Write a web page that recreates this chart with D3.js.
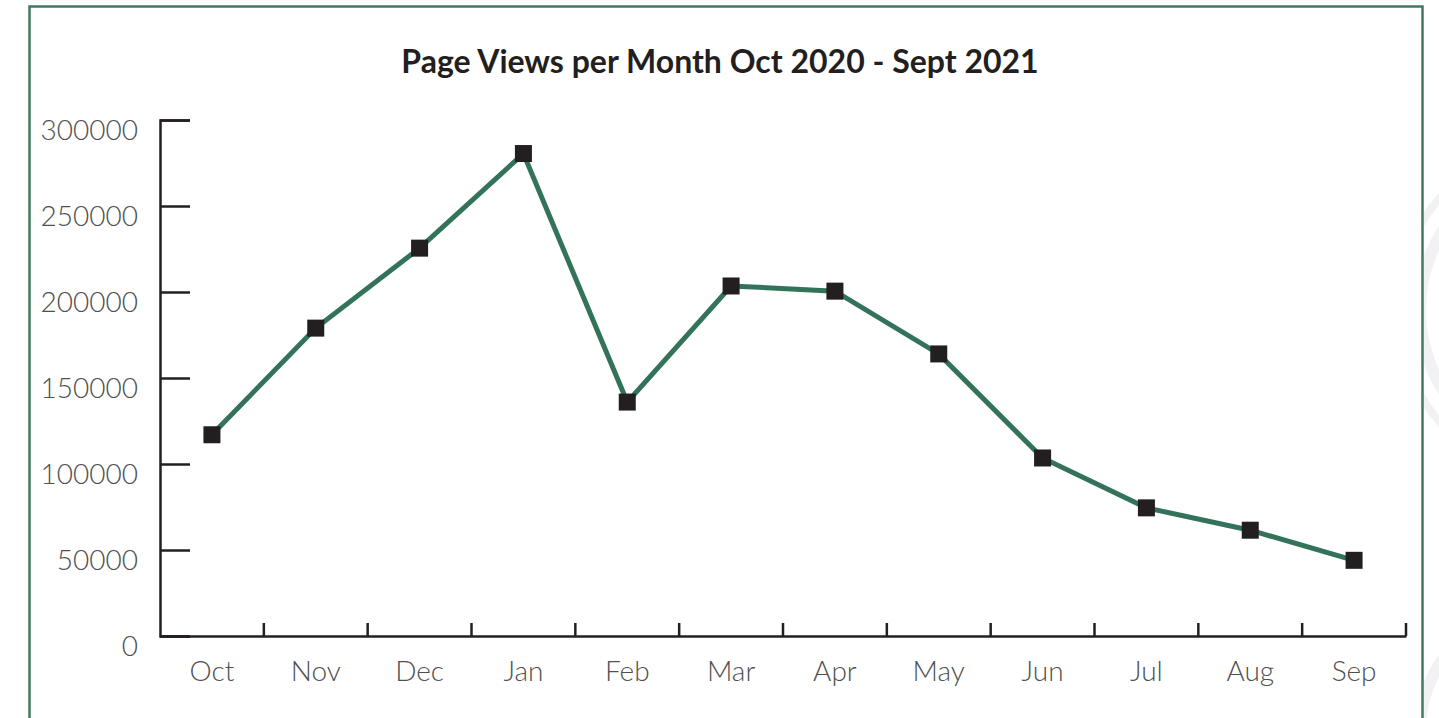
<!DOCTYPE html>
<html>
<head>
<meta charset="utf-8">
<script src="https://cdn.jsdelivr.net/npm/d3@7"></script>
<style>
  html, body { margin: 0; padding: 0; background: #ffffff; }
  svg { display: block; }
  text { font-family: Lato, "Open Sans", sans-serif; }
</style>
</head>
<body>
<svg id="chart" width="1439" height="718"></svg>
<script>
const months = ["Oct", "Nov", "Dec", "Jan", "Feb", "Mar", "Apr", "May", "Jun", "Jul", "Aug", "Sep"];
const pageViews = [117000, 179000, 225500, 280500, 136000, 203500, 200500, 164000, 103500, 74500, 61500, 44000];
const yTicks = [0, 50000, 100000, 150000, 200000, 250000, 300000];
const chartTitle = "Page Views per Month Oct 2020 - Sept 2021";

(function () {
const svg = d3.select("#chart");

// faint background decoration to the right of the frame
const deco = svg.append("g").attr("fill", "none").attr("stroke", "#f2f2f4");
[[1570, 310, 150, 12], [1570, 310, 172, 8], [1540, 730, 120, 12]].forEach(([cx, cy, r, w]) => {
  deco.append("circle").attr("cx", cx).attr("cy", cy).attr("r", r).attr("stroke-width", w);
});

// frame
svg.append("rect")
  .attr("x", 29.5).attr("y", 6.5)
  .attr("width", 1393).attr("height", 740)
  .attr("fill", "#ffffff")
  .attr("stroke", "#3f7a5f")
  .attr("stroke-width", 2.5);

const mLeft = 160, mRight = 1406, mTop = 120, mBottom = 636;

const x = d3.scaleBand().domain(months).range([mLeft, mRight]).paddingInner(0).paddingOuter(0);
const y = d3.scaleLinear().domain([0, 300000]).range([mBottom, mTop]);

// title
svg.append("text")
  .attr("x", 720).attr("y", 73)
  .attr("text-anchor", "middle")
  .attr("font-size", 32)
  .attr("font-weight", 700)
  .attr("fill", "#231f20")
  .text(chartTitle);

// y axis
const yAxis = svg.append("g")
  .attr("transform", `translate(${mLeft},0)`)
  .call(d3.axisLeft(y).tickValues(yTicks).tickFormat(d3.format("d")).tickSize(-30).tickPadding(22));
yAxis.select(".domain").attr("stroke", "#231f20").attr("stroke-width", 2.5);
yAxis.selectAll(".tick line").attr("stroke", "#231f20").attr("stroke-width", 2.5);
yAxis.selectAll(".tick text")
  .attr("font-family", "Lato, sans-serif")
  .attr("font-size", 28).attr("font-weight", 300)
  .attr("fill", "#4f4f4f")
  .attr("dy", "0.69em");

// x axis
const xAxis = svg.append("g")
  .attr("transform", `translate(0,${mBottom})`)
  .call(d3.axisBottom(x).tickSize(0).tickSizeOuter(0).tickPadding(25));
xAxis.select(".domain").attr("stroke", "#231f20").attr("stroke-width", 2.5);
xAxis.selectAll(".tick text")
  .attr("font-family", "Lato, sans-serif")
  .attr("font-size", 28).attr("font-weight", 300)
  .attr("fill", "#4f4f4f");

// boundary ticks pointing up
const bounds = d3.range(1, months.length + 1).map(i => mLeft + i * x.step());
xAxis.selectAll(".bound")
  .data(bounds)
  .enter().append("line")
  .attr("class", "bound")
  .attr("x1", d => d).attr("x2", d => d)
  .attr("y1", 0).attr("y2", -13)
  .attr("stroke", "#231f20").attr("stroke-width", 2.5);

// line
const data = months.map((m, i) => ({ m, v: pageViews[i] }));
const line = d3.line().x(d => x(d.m) + x.bandwidth() / 2).y(d => y(d.v));
svg.append("path")
  .datum(data)
  .attr("d", line)
  .attr("fill", "none")
  .attr("stroke", "#33735a")
  .attr("stroke-width", 5);

// markers
const sz = 17;
svg.selectAll(".pt")
  .data(data)
  .enter().append("rect")
  .attr("class", "pt")
  .attr("x", d => x(d.m) + x.bandwidth() / 2 - sz / 2)
  .attr("y", d => y(d.v) - sz / 2)
  .attr("width", sz).attr("height", sz)
  .attr("fill", "#231f20");
})();
</script>
</body>
</html>
